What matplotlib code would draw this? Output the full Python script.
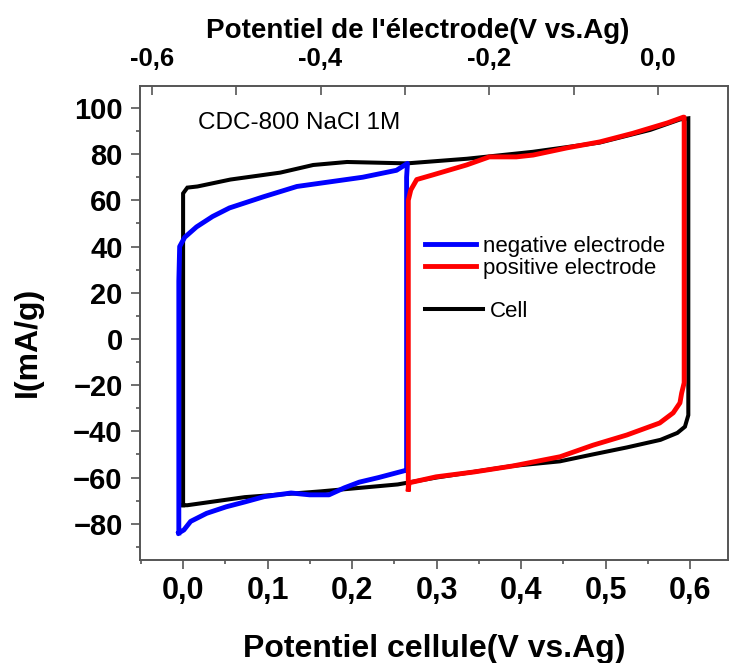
import matplotlib
matplotlib.use("Agg")
import matplotlib.pyplot as plt
from matplotlib.ticker import MultipleLocator, FuncFormatter
from matplotlib.lines import Line2D

plt.rcParams['font.family'] = ['Liberation Sans', 'DejaVu Sans']

# cell (bottom axis): potential vs current, forward then reverse scan
cell_v = [0.0, 0.0, 0.005, 0.017, 0.056, 0.115, 0.154, 0.194, 0.265, 0.336, 0.414,
          0.493, 0.553, 0.588, 0.598,
          0.598, 0.598, 0.594, 0.585, 0.565, 0.525, 0.485, 0.446, 0.39, 0.3, 0.254,
          0.163, 0.073, 0.005, 0.0]
cell_i = [-72, 63, 65.5, 66, 69, 72, 75.3, 76.6, 76, 78, 81,
          85, 90.5, 95, 95.5,
          94, -33, -38, -40.7, -43.7, -47, -50, -53, -55, -60, -63,
          -66, -68.5, -72, -72]

# negative electrode (top axis)
neg_v = [-0.568, -0.568, -0.567, -0.561, -0.547, -0.528, -0.508, -0.468, -0.428,
         -0.389, -0.35, -0.31, -0.297, -0.298, -0.298,
         -0.30, -0.331, -0.354, -0.372, -0.39, -0.413, -0.435, -0.467, -0.49,
         -0.512, -0.535, -0.554, -0.562, -0.568]
neg_i = [-84, 25, 40, 44, 48.5, 53, 56.7, 61.5, 66,
         68, 70, 73, 76, 70, -57,
         -57, -60, -62, -64.5, -67.5, -67.5, -66.7, -68.3, -70.6,
         -72.7, -75.5, -79, -82.7, -84]

# positive electrode (top axis)
pos_v = [-0.296, -0.296, -0.293, -0.286, -0.267, -0.227, -0.2, -0.168, -0.148,
         -0.108, -0.069, -0.03, 0.011, 0.03, 0.031,
         0.031, 0.028, 0.026, 0.018, 0.002, -0.037, -0.077, -0.116, -0.172,
         -0.218, -0.263, -0.295, -0.296]
pos_i = [-65, 60, 64.5, 69, 71, 75.3, 78.8, 78.8, 79.6,
         82.7, 85.3, 89, 93.5, 96, 96,
         -19, -23.5, -27.7, -32, -36.4, -41.6, -46, -51, -55,
         -57.6, -59.7, -62.3, -65]

spine_col = '#555555'


def comma(v, pos):
    if abs(v) < 1e-9:
        v = 0.0
    return f"{v:.1f}".replace('.', ',')


fig = plt.figure(figsize=(7.3, 6.63), dpi=100)
ax = fig.add_axes([0.1918, 0.1554, 0.8055, 0.7149])
ax2 = ax.twiny()

ax.plot(cell_v, cell_i, color='black', lw=2.9, solid_joinstyle='miter')
ax2.plot(neg_v, neg_i, color='#0000ff', lw=3.5)
ax2.plot(pos_v, pos_i, color='#ff0000', lw=3.5)

ax.set_xlim(-0.051, 0.645)
ax.set_ylim(-95.7, 109.5)
ax2.set_xlim(-0.614, 0.083)

ax.xaxis.set_major_locator(MultipleLocator(0.1))
ax.xaxis.set_minor_locator(MultipleLocator(0.05))
ax.xaxis.set_major_formatter(FuncFormatter(comma))
ax.yaxis.set_major_locator(MultipleLocator(20))
ax.yaxis.set_minor_locator(MultipleLocator(10))
ax2.xaxis.set_major_locator(MultipleLocator(0.2))
ax2.xaxis.set_minor_locator(MultipleLocator(0.1))
ax2.xaxis.set_major_formatter(FuncFormatter(comma))

for a in (ax, ax2):
    for s in a.spines.values():
        s.set_color(spine_col)
        s.set_linewidth(1.2)

ax.tick_params(which='both', direction='out', color=spine_col, width=1.2,
               top=False, right=False)
ax.tick_params(which='major', length=6.5)
ax.tick_params(which='minor', length=3.2)
ax.tick_params(axis='x', which='major', labelsize=22, pad=5)
ax.tick_params(axis='y', which='major', labelsize=21, pad=6)
ax2.tick_params(which='both', direction='in', length=6.5, color=spine_col,
                width=1.2, labelsize=18.5, pad=11)
for lab in ax.get_xticklabels() + ax.get_yticklabels() + ax2.get_xticklabels():
    lab.set_fontweight('bold')

ax.set_xlabel("Potentiel cellule(V vs.Ag)", fontsize=23, fontweight='bold',
              labelpad=20)
ax.set_ylabel("I(mA/g)", fontsize=23, fontweight='bold')
ax.yaxis.set_label_coords(-0.166, 0.46)
ax2.set_xlabel("Potentiel de l'électrode(V vs.Ag)", fontsize=20,
               fontweight='bold')
ax2.xaxis.set_label_coords(0.473, 1.102)

ax.text(0.0986, 0.922, "CDC-800 NaCl 1M", transform=ax.transAxes,
        fontsize=17.5, va='center', ha='left')

h_neg = Line2D([], [], color='#0000ff', lw=3.5)
h_pos = Line2D([], [], color='#ff0000', lw=3.5)
h_cell = Line2D([], [], color='black', lw=2.9)
leg1 = ax2.legend([h_neg, h_pos], ["negative electrode", "positive electrode"],
                  loc='upper left', bbox_to_anchor=(0.4847, 0.6835),
                  frameon=False, fontsize=16, handlelength=2.3,
                  handletextpad=0.3, labelspacing=0.05, borderpad=0,
                  borderaxespad=0)
ax2.add_artist(leg1)
ax2.legend([h_cell], ["Cell"], loc='upper left',
           bbox_to_anchor=(0.4847, 0.5464), frameon=False, fontsize=16,
           handlelength=2.6, handletextpad=0.3, borderpad=0, borderaxespad=0)

fig.savefig("out.png", dpi=100)
